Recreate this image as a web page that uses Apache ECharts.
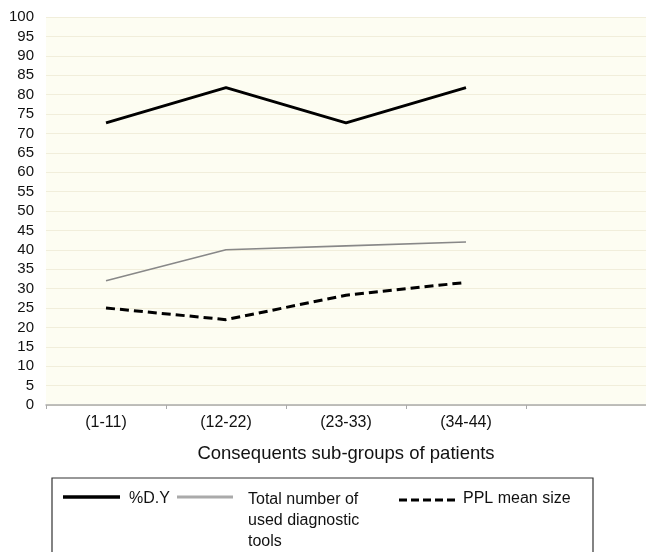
<!DOCTYPE html>
<html><head><meta charset="utf-8">
<script src="https://cdn.jsdelivr.net/npm/echarts@6/dist/echarts.min.js"></script>
<style>html,body{margin:0;padding:0;background:#fff}#c{width:646px;height:552px}</style>
</head><body><div id="c"></div>
<script>
const categories = ['(1-11)', '(12-22)', '(23-33)', '(34-44)', ''];
const seriesNames = ['%D.Y', 'Total number of\nused diagnostic\ntools', 'PPL mean size'];
const dyValues = [72.7, 81.8, 72.7, 81.8];
const toolsValues = [32, 40, 41, 42];
const pplValues = [25, 22, 28.3, 31.6];
const xAxisTitle = 'Consequents sub-groups of patients';

const chart = echarts.init(document.getElementById('c'));
const font = 'Liberation Sans, Arial, sans-serif';
const txt = (s, x, y, extra) => Object.assign({
  type: 'text', x: x, y: y, silent: true,
  style: {text: s, fill: '#111', font: '16px ' + font, textVerticalAlign: 'middle', verticalAlign: 'middle'}
}, extra || {});
const seg = (x1, x2, y, style) => ({
  type: 'line', silent: true, shape: {x1: x1, y1: y, x2: x2, y2: y}, style: style
});
chart.setOption({
  backgroundColor: '#ffffff',
  animation: false,
  grid: {left: 46, right: 0, top: 17, bottom: 147, show: true, backgroundColor: '#fdfdf2', borderWidth: 0},
  graphic: [
    {type: 'rect', silent: true, shape: {x: 52, y: 478, width: 541, height: 100},
     style: {fill: 'none', stroke: '#333', lineWidth: 1.2}},
    seg(63, 120, 497, {stroke: '#000', lineWidth: 3.5}),
    txt(seriesNames[0], 129, 499),
    seg(177, 233, 497, {stroke: '#aaaaaa', lineWidth: 3}),
    {type: 'text', x: 248, y: 489, silent: true,
     style: {text: seriesNames[1], fill: '#111', font: '16px ' + font, lineHeight: 21, textVerticalAlign: 'top', verticalAlign: 'top'}},
    seg(399, 457, 500, {stroke: '#000', lineWidth: 3, lineDash: [8, 4]}),
    txt(seriesNames[2], 463, 499)
  ],
  xAxis: {
    type: 'category', data: categories, boundaryGap: true,
    name: xAxisTitle, nameLocation: 'middle', nameGap: 39,
    nameTextStyle: {fontFamily: font, fontSize: 18.5, color: '#111'},
    axisLine: {lineStyle: {color: '#aaaaaa', width: 1.5}},
    axisTick: {show: true, length: 4, lineStyle: {color: '#aaaaaa'}},
    axisLabel: {fontFamily: font, fontSize: 16, color: '#111', margin: 10},
    splitLine: {show: false}
  },
  yAxis: {
    type: 'value', min: 0, max: 100, interval: 5,
    axisLine: {show: false}, axisTick: {show: false},
    axisLabel: {fontFamily: font, fontSize: 15, color: '#111', margin: 12},
    splitLine: {lineStyle: {color: '#f1eedb', width: 1}}
  },
  series: [
    {name: seriesNames[0], type: 'line', data: dyValues, symbol: 'none',
     lineStyle: {color: '#000', width: 3}, itemStyle: {color: '#000'}},
    {name: seriesNames[1], type: 'line', data: toolsValues, symbol: 'none',
     lineStyle: {color: '#888', width: 1.6}, itemStyle: {color: '#999'}},
    {name: seriesNames[2], type: 'line', data: pplValues, symbol: 'none',
     lineStyle: {color: '#000', width: 3, type: [9, 5]}, itemStyle: {color: '#000'}}
  ]
});
</script></body></html>
